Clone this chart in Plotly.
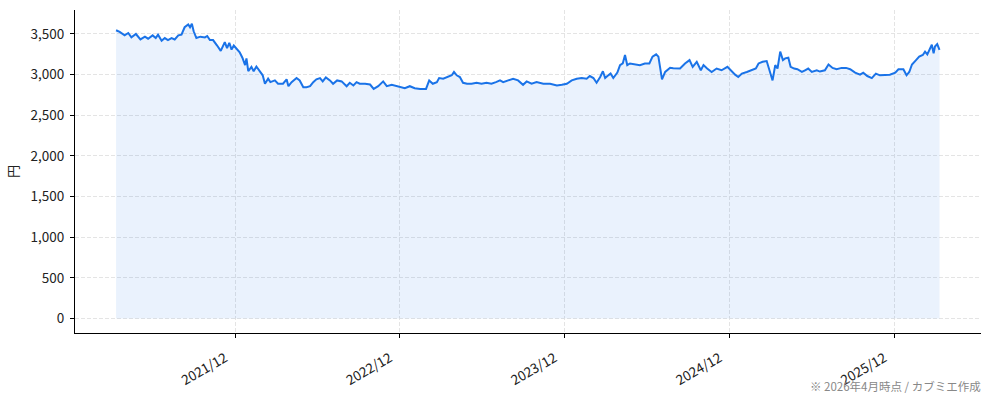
import pandas as pd
import plotly.graph_objects as go

# closing price (円), sampled off the chart; dates as days from 2021-12-01
base_date = '2021-12-01'
day_offsets = [
    -264, -256, -245, -237, -230, -220, -210, -200, -193, -183,
    -176, -171, -163, -156, -149, -141, -134, -126, -119, -112,
    -104, -100, -96, -92, -86, -77, -67, -62, -56, -49,
    -40, -32, -23, -18, -13, -8, -3, 3, 10, 16,
    22, 25, 29, 36, 41, 47, 53, 61, 66, 73,
    78, 88, 95, 106, 114, 118, 125, 136, 143, 151,
    158, 166, 173, 180, 188, 194, 201, 210, 217, 226,
    236, 247, 254, 262, 269, 276, 288, 299, 307, 317,
    328, 336, 347, 358, 365, 376, 387, 398, 410, 423,
    430, 438, 447, 452, 461, 472, 480, 485, 491, 498,
    505, 514, 524, 535, 546, 557, 568, 578, 587, 594,
    605, 616, 627, 638, 646, 657, 668, 683, 698, 713,
    724, 735, 746, 757, 768, 779, 786, 794, 801, 809,
    815, 820, 825, 832, 838, 847, 853, 859, 864, 869,
    875, 886, 897, 908, 918, 925, 933, 938, 943, 946,
    953, 964, 971, 979, 986, 997, 1007, 1014, 1023, 1032,
    1038, 1046, 1056, 1067, 1078, 1091, 1098, 1108, 1115, 1123,
    1134, 1145, 1154, 1160, 1169, 1178, 1185, 1191, 1197, 1202,
    1208, 1214, 1219, 1226, 1231, 1239, 1246, 1256, 1263, 1270,
    1278, 1289, 1296, 1307, 1315, 1324, 1333, 1344, 1354, 1363,
    1374, 1385, 1392, 1401, 1411, 1420, 1429, 1440, 1451, 1463,
    1470, 1481, 1488, 1494, 1500, 1509, 1516, 1524, 1529, 1534,
    1539, 1544, 1548, 1551, 1556, 1561,
]
prices = [
    3546, 3525, 3483, 3512, 3458, 3500, 3433, 3467, 3442, 3483,
    3450, 3492, 3417, 3450, 3425, 3450, 3433, 3483, 3492, 3583,
    3617, 3583, 3625, 3533, 3450, 3467, 3458, 3475, 3425, 3425,
    3358, 3292, 3400, 3325, 3392, 3308, 3358, 3325, 3275, 3208,
    3117, 3200, 3042, 3096, 3042, 3100, 3054, 2992, 2888, 2950,
    2908, 2929, 2888, 2888, 2942, 2858, 2908, 2958, 2929, 2846,
    2846, 2858, 2908, 2942, 2958, 2917, 2967, 2929, 2888, 2929,
    2917, 2858, 2900, 2867, 2908, 2888, 2888, 2879, 2825, 2858,
    2917, 2858, 2875, 2858, 2855, 2833, 2858, 2833, 2825, 2825,
    2929, 2888, 2908, 2958, 2950, 2971, 2992, 3033, 2992, 2971,
    2900, 2888, 2888, 2900, 2888, 2900, 2888, 2908, 2929, 2908,
    2929, 2950, 2929, 2875, 2917, 2888, 2908, 2888, 2888, 2867,
    2875, 2888, 2929, 2950, 2958, 2950, 2983, 2958, 2900, 2971,
    3042, 2958, 2983, 3013, 2958, 3025, 3117, 3138, 3242, 3117,
    3138, 3125, 3117, 3138, 3138, 3221, 3250, 3221, 3013, 2942,
    3033, 3085, 3080, 3075, 3075, 3138, 3179, 3096, 3158, 3054,
    3117, 3075, 3033, 3075, 3054, 3096, 3054, 3000, 2971, 3013,
    3033, 3054, 3075, 3138, 3158, 3167, 3054, 2929, 3117, 3075,
    3283, 3179, 3200, 3208, 3096, 3075, 3067, 3033, 3054, 3075,
    3033, 3054, 3038, 3054, 3125, 3083, 3067, 3083, 3083, 3067,
    3025, 3000, 3025, 2983, 2958, 3013, 2992, 3000, 3000, 3025,
    3067, 3067, 2992, 3033, 3125, 3179, 3221, 3242, 3283, 3250,
    3317, 3367, 3263, 3346, 3375, 3304,
]

tick_dates = ['2021-12-01', '2022-12-01', '2023-12-01', '2024-12-01', '2025-12-01']
tick_labels = ['2021/12', '2022/12', '2023/12', '2024/12', '2025/12']
y_ticks = [0, 500, 1000, 1500, 2000, 2500, 3000, 3500]
note = '※ 2026年4月時点 / カブミエ作成'

dates = pd.Timestamp(base_date) + pd.to_timedelta(day_offsets, unit='D')

font = 'Noto Sans CJK JP'
blue = '#1a73e8'
grid = dict(showgrid=True, gridcolor='#e4e4e4', griddash='4px,2px', gridwidth=1)

fig = go.Figure()
fig.add_trace(go.Scatter(
    x=dates, y=prices,
    mode='lines',
    line=dict(color=blue, width=2),
    fill='tozeroy',
    fillcolor='rgba(26,115,232,0.09)',
    hoverinfo='x+y',
))

fig.update_layout(
    width=994, height=401,
    margin=dict(l=75, r=13, t=10, b=68),
    plot_bgcolor='white',
    paper_bgcolor='white',
    showlegend=False,
    font=dict(family=font, size=13.5, color='#222222'),
)

fig.update_xaxes(
    range=['2020-12-11', '2026-06-11'],
    tickvals=tick_dates, ticktext=tick_labels,
    tickangle=-30,
    ticklabelshift=-10, ticklabelstandoff=7,
    ticks='outside', ticklen=4, tickcolor='black',
    showline=True, linecolor='black', linewidth=1.2,
    zeroline=False,
    automargin=False,
    **grid,
)
fig.update_yaxes(
    range=[-177, 3795],
    tickvals=y_ticks, tickformat=',',
    ticklabelstandoff=3,
    ticks='outside', ticklen=4, tickcolor='black',
    showline=True, linecolor='black', linewidth=1.2,
    zeroline=False,
    automargin=False,
    title=dict(text='円', standoff=8, font=dict(size=13)),
    **grid,
)

fig.add_annotation(
    text=note,
    xref='paper', yref='paper',
    x=1, y=-0.165,
    xanchor='right', yanchor='middle',
    xshift=2,
    showarrow=False,
    font=dict(family=font, size=11.5, color='#888888'),
)

# page body has an 8px default margin; drop it so the figure sits at 0,0
fig.write_html('out.html', config={'displayModeBar': False},
               post_script="document.body.style.margin='0';")
